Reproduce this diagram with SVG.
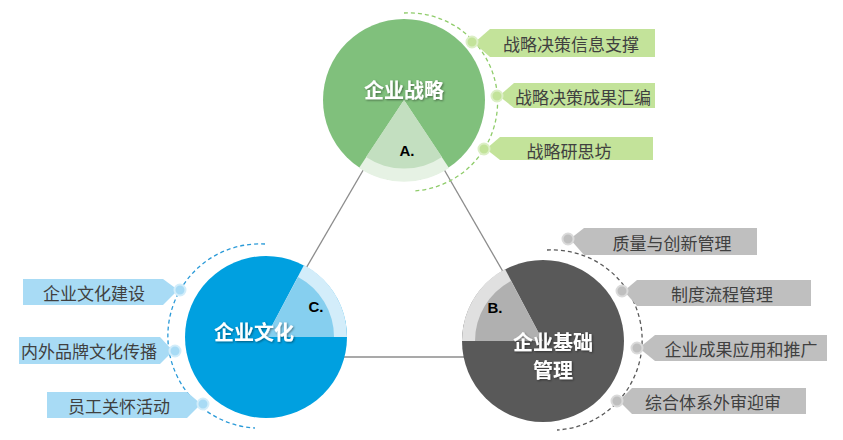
<svg xmlns="http://www.w3.org/2000/svg" width="843" height="440" viewBox="0 0 843 440">
<defs>
<filter id="sh" x="-20%" y="-20%" width="140%" height="140%"><feDropShadow dx="1" dy="1" stdDeviation="1" flood-color="#000" flood-opacity="0.45"/></filter>
</defs>
<style>
.lbl{font-family:"Noto Sans CJK SC","Liberation Sans",sans-serif;font-size:17px;fill:#404040;text-anchor:middle;dominant-baseline:central}
.ttl{font-family:"Noto Sans CJK SC",sans-serif;font-size:20px;font-weight:bold;fill:#fff;text-anchor:middle;dominant-baseline:central;filter:url(#sh)}
.let{font-family:"Liberation Sans",sans-serif;font-size:15px;font-weight:bold;fill:#000;text-anchor:middle;dominant-baseline:central}
.conn{stroke:#8c8c8c;stroke-width:1.3;fill:none}
.g{fill:#c3e39a}.gd{fill:#c3e39a;stroke:#dcefc6;stroke-width:2}
.k{fill:#bfbfbf}.kd{fill:#bfbfbf;stroke:#dadada;stroke-width:2}
.b{fill:#a8dbf5}.bd{fill:#a8dbf5;stroke:#d2edfa;stroke-width:2}
</style>
<g id="connectors">
<line class="conn" x1="404" y1="100" x2="266" y2="337"/>
<line class="conn" x1="404" y1="100" x2="543" y2="341"/>
<line class="conn" x1="266" y1="357" x2="543" y2="357"/>
</g>
<g id="strategy">
<path d="M404 13 A89 89 0 0 1 413 191" fill="none" stroke="#8fcc6a" stroke-width="1.3" stroke-dasharray="4 3"/>
<circle cx="404" cy="100" r="81" fill="#80c07c"/>
<path d="M404 100 L359 168 A81 81 0 0 0 449 168 Z" fill="#e6f2e4"/>
<path d="M404 100 L366 157 A68 68 0 0 0 442 157 Z" fill="#c3dfc0"/>
<text class="ttl" x="404" y="89">企业战略</text>
<text class="let" x="407" y="150">A.</text>
</g>
<g id="s1"><polygon class="g" points="474,43 490,29 655,29 655,57 490,57"/><circle class="gd" cx="472" cy="42" r="5.5"/><text class="lbl" x="571" y="43">战略决策信息支撑</text></g>
<g id="s2"><polygon class="g" points="499,96 514,83 655,83 655,108 514,108"/><circle class="gd" cx="497" cy="96" r="5.5"/><text class="lbl" x="583" y="96">战略决策成果汇编</text></g>
<g id="s3"><polygon class="g" points="486,149 500,137 653,137 653,160 500,160"/><circle class="gd" cx="484" cy="149" r="5.5"/><text class="lbl" x="569" y="150">战略研思坊</text></g>
<g id="base">
<path d="M547 250 A90 90 0 0 1 557 430" fill="none" stroke="#595959" stroke-width="1.3" stroke-dasharray="4 3"/>
<circle cx="543" cy="341" r="81" fill="#595959"/>
<path d="M543 341 L462 341 A81 81 0 0 1 505 269 Z" fill="#e0e0e0"/>
<path d="M543 341 L475 341 A68 68 0 0 1 511 281 Z" fill="#b0b0b0"/>
<text class="ttl" x="553" y="341">企业基础</text>
<text class="ttl" x="553" y="369">管理</text>
<text class="let" x="495" y="307">B.</text>
</g>
<g id="b1"><polygon class="k" points="570,239 584,228 757,228 757,255 584,255"/><circle class="kd" cx="568" cy="239" r="5.5"/><text class="lbl" x="672" y="242">质量与创新管理</text></g>
<g id="b2"><polygon class="k" points="624,291 637,280 811,280 811,306 637,306"/><circle class="kd" cx="622" cy="291" r="5.5"/><text class="lbl" x="722" y="293">制度流程管理</text></g>
<g id="b3"><polygon class="k" points="639,348 655,335 827,335 827,361 655,361"/><circle class="kd" cx="637" cy="348" r="5.5"/><text class="lbl" x="741" y="348">企业成果应用和推广</text></g>
<g id="b4"><polygon class="k" points="619,401 632,388 806,388 806,414 632,414"/><circle class="kd" cx="617" cy="401" r="5.5"/><text class="lbl" x="713" y="401">综合体系外审迎审</text></g>
<g id="culture">
<path d="M265 244 A92 92 0 0 0 255 428" fill="none" stroke="#2a9ad8" stroke-width="1.3" stroke-dasharray="4 3"/>
<circle cx="266" cy="337" r="81" fill="#00a0e0"/>
<path d="M266 337 L304 265 A81 81 0 0 1 347 337 Z" fill="#d3edfa"/>
<path d="M266 337 L298 277 A68 68 0 0 1 334 337 Z" fill="#86cfef"/>
<text class="ttl" x="254" y="331">企业文化</text>
<text class="let" x="316" y="306">C.</text>
</g>
<g id="c1"><polygon class="b" points="23,279 163,279 178,290 163,305 23,305"/><circle class="bd" cx="180" cy="290" r="5.5"/><text class="lbl" x="94" y="292">企业文化建设</text></g>
<g id="c2"><polygon class="b" points="19,337 160,337 173,351 160,364 19,364"/><circle class="bd" cx="175" cy="351" r="5.5"/><text class="lbl" x="89" y="350">内外品牌文化传播</text></g>
<g id="c3"><polygon class="b" points="47,392 187,392 201,404 187,418 47,418"/><circle class="bd" cx="203" cy="404" r="5.5"/><text class="lbl" x="119" y="405">员工关怀活动</text></g>
</svg>
